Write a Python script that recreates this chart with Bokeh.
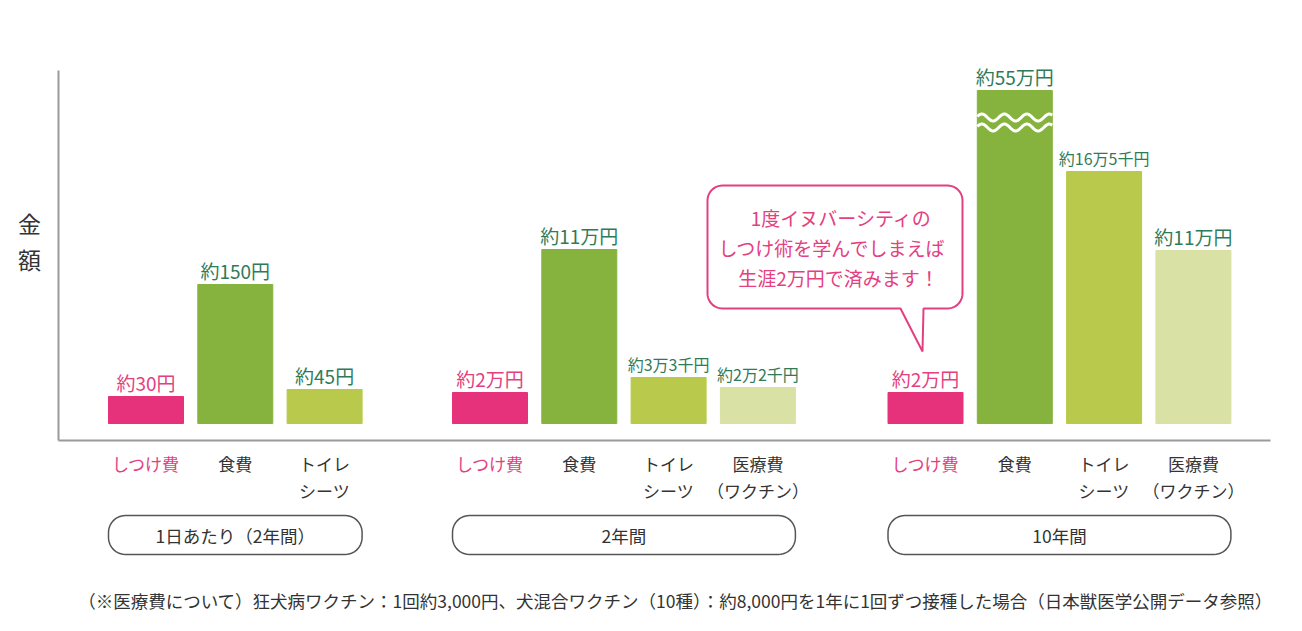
import numpy as np
from bokeh.plotting import figure
from bokeh.models import Range1d, ColumnDataSource
from bokeh.core.properties import value
from bokeh.embed import file_html
from bokeh.resources import INLINE

# ---------------- data ----------------
groups = ["1日あたり（2年間）", "2年間", "10年間"]
categories = ["しつけ費", "食費", "トイレ\nシーツ", "医療費\n（ワクチン）"]
cat_colors = ["#E6327B", "#86B23E", "#B9C94B", "#D9E1A4"]

# bar heights as drawn in the picture (illustrative scale)
heights_g1 = [27, 139, 34]
heights_g2 = [31, 174, 46, 36]
heights_g3 = [31, 333, 252, 173]

labels_g1 = ["約30円", "約150円", "約45円"]
labels_g2 = ["約2万円", "約11万円", "約3万3千円", "約2万2千円"]
labels_g3 = ["約2万円", "約55万円", "約16万5千円", "約11万円"]

broken_bar = (2, 1)  # group 3, 食費 bar is drawn with a break

bubble_lines = ["1度イヌバーシティの", "しつけ術を学んでしまえば", "生涯2万円で済みます！"]
footnote = "（※医療費について）狂犬病ワクチン：1回約3,000円、犬混合ワクチン（10種）：約8,000円を1年に1回ずつ接種した場合（日本獣医学公開データ参照）"
y_label = "金額"

# ---------------- layout ----------------
FONT = value("Noto Sans CJK JP")
group_start = [87.5, 431.5, 867.0]
step = 89.3
bar_w = 75
axis_y = -17
axis_top = 353
axis_right = 1212

p = figure(width=1286, height=615, x_range=Range1d(-58, 1228), y_range=Range1d(-192, 423),
           output_backend="svg", toolbar_location=None, min_border=0,
           x_axis_type=None, y_axis_type=None)
p.grid.visible = False
p.outline_line_color = None
p.background_fill_color = "white"

all_heights = [heights_g1, heights_g2, heights_g3]
all_labels = [labels_g1, labels_g2, labels_g3]

xs, hs, cols, lbl, lbl_col, lbl_size = [], [], [], [], [], []
for gi, (hh, ll) in enumerate(zip(all_heights, all_labels)):
    for ci, (h, t) in enumerate(zip(hh, ll)):
        xs.append(group_start[gi] + ci * step)
        hs.append(h)
        cols.append(cat_colors[ci])
        lbl.append(t)
        lbl_col.append("#E4407F" if ci == 0 else "#2F7B58")
        lbl_size.append("16px" if len(t) >= 6 else "19px")

src = ColumnDataSource(dict(x=xs, top=hs, color=cols, label=lbl, lc=lbl_col,
                            ly=[h + 14 for h in hs], ls=lbl_size))
p.vbar(x="x", top="top", bottom=0, width=bar_w, color="color", source=src)
p.text(x="x", y="ly", text="label", text_color="lc", text_font_size="ls",
       text_font=FONT, text_align="center", text_baseline="middle", source=src)

# break marks on the tall bar
gi, ci = broken_bar
bx = group_start[gi] + ci * step
btop = all_heights[gi][ci]
wx = np.linspace(bx - bar_w / 2, bx + bar_w / 2, 80)
for off in (27, 37):
    wy = btop - off + 3.5 * np.sin(2 * np.pi * (wx - wx[0]) / 22.5 + 0.3)
    p.line(wx, wy, line_color="white", line_width=3)

# axes lines
p.segment(x0=[0, 0], y0=[axis_y, axis_y], x1=[0, axis_right], y1=[axis_top, axis_y],
          line_color="#9a9a9a", line_width=2)

# category labels
cx, cy, ct, cc = [], [], [], []
for gi, hh in enumerate(all_heights):
    for ci in range(len(hh)):
        for li, line in enumerate(categories[ci].split("\n")):
            cx.append(group_start[gi] + ci * step)
            cy.append(-40 - 27 * li)
            ct.append(line)
            cc.append("#E4407F" if ci == 0 else "#333333")
p.text(x=cx, y=cy, text=ct, text_color=cc, text_font_size=value("17px"), text_font=FONT,
       text_align="center", text_baseline="middle")


def round_rect(x0, x1, y0, y1, r, n=12):
    px, py = [], []
    corners = [(x1 - r, y0 + r, -90, 0), (x1 - r, y1 - r, 0, 90),
               (x0 + r, y1 - r, 90, 180), (x0 + r, y0 + r, 180, 270)]
    for (ccx, ccy, a0, a1) in corners:
        a = np.radians(np.linspace(a0, a1, n))
        px.extend(ccx + r * np.cos(a))
        py.extend(ccy + r * np.sin(a))
    return px, py

# group pills
for gi, hh in enumerate(all_heights):
    left = group_start[gi] - bar_w / 2
    right = group_start[gi] + (len(hh) - 1) * step + bar_w / 2
    px, py = round_rect(left, right, -131, -92, 17)
    p.patch(px, py, fill_color="white", line_color="#555555", line_width=1.5)
    p.text(x=[(left + right) / 2], y=[-111.5], text=[groups[gi]], text_color="#333333",
           text_font_size=value("17.5px"), text_font=FONT, text_align="center",
           text_baseline="middle")

# speech bubble
bx0, bx1, by0, by1, br = 649, 904, 115, 238, 15
tail_l, tail_r, tip_x, tip_y = 842, 865, 864, 72
sx, sy = [bx0 + br, tail_l, tip_x, tail_r], [by0, by0, tip_y, by0]
for (ccx, ccy, a0, a1) in [(bx1 - br, by0 + br, -90, 0), (bx1 - br, by1 - br, 0, 90),
                           (bx0 + br, by1 - br, 90, 180), (bx0 + br, by0 + br, 180, 270)]:
    a = np.radians(np.linspace(a0, a1, 12))
    sx.extend(ccx + br * np.cos(a))
    sy.extend(ccy + br * np.sin(a))
p.patch(sx, sy, fill_color="white", line_color="#E4407F", line_width=2)
p.text(x=[783, 774, 780], y=[206, 176, 146], text=bubble_lines, text_color="#E4407F",
       text_font_size=value("19px"), text_font=FONT, text_align="center",
       text_baseline="middle")

# y label
p.text(x=[-29, -29], y=[201, 165], text=list(y_label), text_color="#333333",
       text_font_size=value("23px"), text_font=FONT, text_align="center",
       text_baseline="middle")

# footnote
p.text(x=[617], y=[-177], text=[footnote], text_color="#333333",
       text_font_size=value("17.5px"), text_font=FONT, text_align="center",
       text_baseline="middle")

open("out.html", "w").write(file_html(p, INLINE))
